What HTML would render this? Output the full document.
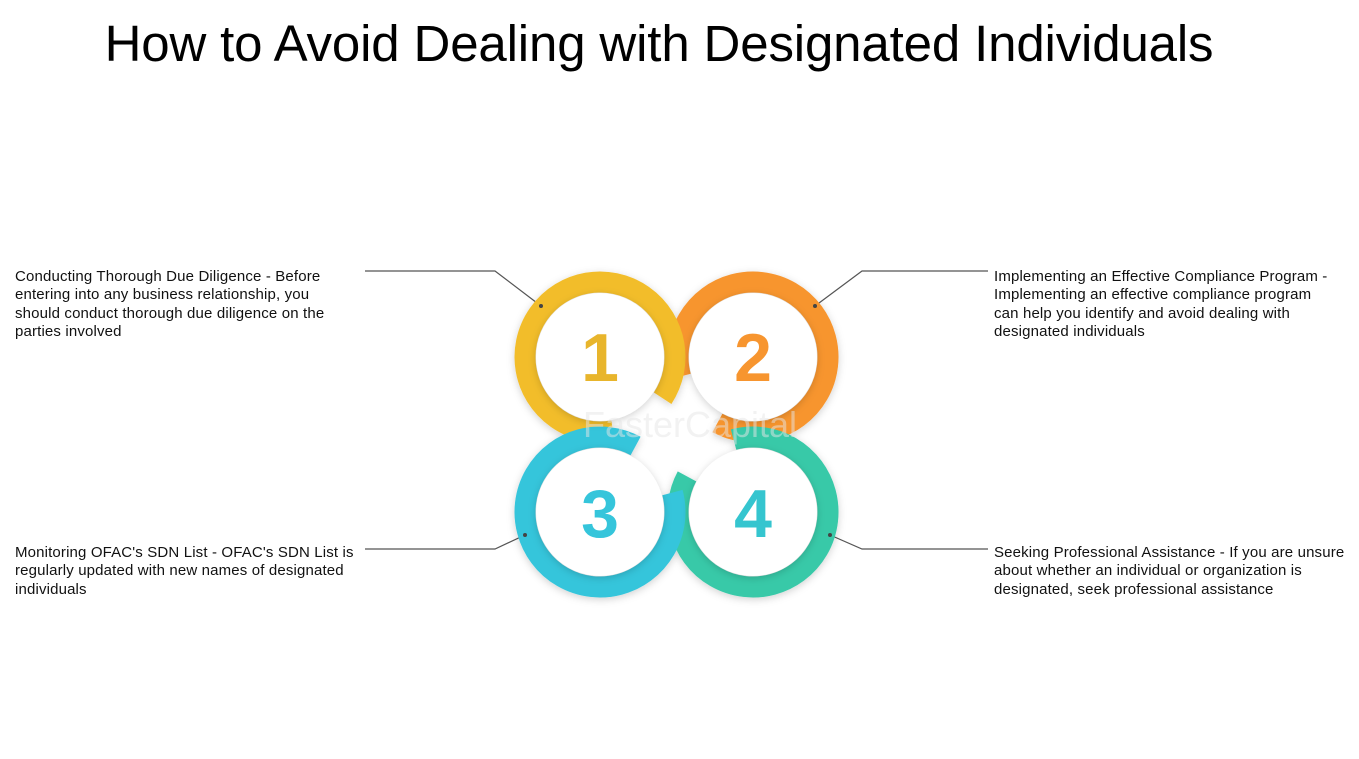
<!DOCTYPE html>
<html><head><meta charset="utf-8"><style>
body{margin:0;width:1359px;height:759px;background:#fff;position:relative;overflow:hidden;font-family:"Liberation Sans",sans-serif}
h1{position:absolute;left:0;width:1318px;top:14px;margin:0;text-align:center;font-weight:normal;font-size:51px;color:#000;letter-spacing:-0.15px}
.t{position:absolute;font-size:15px;line-height:18.3px;color:#111;white-space:nowrap;letter-spacing:0.15px}
</style></head><body>
<h1>How to Avoid Dealing with Designated Individuals</h1>
<div class="t" style="left:15px;top:268px">Conducting Thorough Due Diligence - Before<br>entering into any business relationship, you<br>should conduct thorough due diligence on the<br>parties involved</div>
<div class="t" style="left:994px;top:268px">Implementing an Effective Compliance Program -<br>Implementing an effective compliance program<br>can help you identify and avoid dealing with<br>designated individuals</div>
<div class="t" style="left:15px;top:544px">Monitoring OFAC's SDN List - OFAC's SDN List is<br>regularly updated with new names of designated<br>individuals</div>
<div class="t" style="left:994px;top:544px">Seeking Professional Assistance - If you are unsure<br>about whether an individual or organization is<br>designated, seek professional assistance</div>
<svg width="1359" height="759" style="position:absolute;left:0;top:0">
<defs><filter id="sh" x="-30%" y="-30%" width="160%" height="160%"><feDropShadow dx="0" dy="2" stdDeviation="4" flood-color="#000" flood-opacity="0.18"/></filter></defs>
<g fill="none" stroke="#555" stroke-width="1.2">
<polyline points="365,271 495,271 541,306"/>
<polyline points="988,271 862,271 815,306"/>
<polyline points="365,549 495,549 525,535"/>
<polyline points="988,549 862,549 830,535"/>
</g>
<g fill="none" stroke-width="21" filter="url(#sh)">
<circle cx="753" cy="357" r="75" stroke="#f7952f" stroke-dasharray="410 61" transform="rotate(165 753 357)"/>
<circle cx="600" cy="357" r="75" stroke="#f2bd2c" stroke-dasharray="410 61" transform="rotate(80 600 357)"/>
<circle cx="753" cy="512" r="75" stroke="#38c9a8" stroke-dasharray="410 61" transform="rotate(255 753 512)"/>
<circle cx="600" cy="512" r="75" stroke="#35c5db" stroke-dasharray="410 61" transform="rotate(-15 600 512)"/>
</g>
<g fill="#fff" filter="url(#sh)">
<circle cx="600" cy="357" r="64"/><circle cx="753" cy="357" r="64"/>
<circle cx="600" cy="512" r="64"/><circle cx="753" cy="512" r="64"/>
</g>
<g fill="#444"><circle cx="541" cy="306" r="2"/><circle cx="815" cy="306" r="2"/><circle cx="525" cy="535" r="2"/><circle cx="830" cy="535" r="2"/></g>
<g font-family="Liberation Sans,sans-serif" font-size="68" font-weight="bold" text-anchor="middle">
<text x="600" y="381" fill="#e8b52c">1</text>
<text x="753" y="381" fill="#f7952f">2</text>
<text x="600" y="537" fill="#35c5db">3</text>
<text x="753" y="537" fill="#35c5cf">4</text>
</g>
<text x="690" y="437" font-family="Liberation Sans,sans-serif" font-size="36" text-anchor="middle" fill="#e6e6e6" opacity="0.5">FasterCapital</text>
</svg>
</body></html>
